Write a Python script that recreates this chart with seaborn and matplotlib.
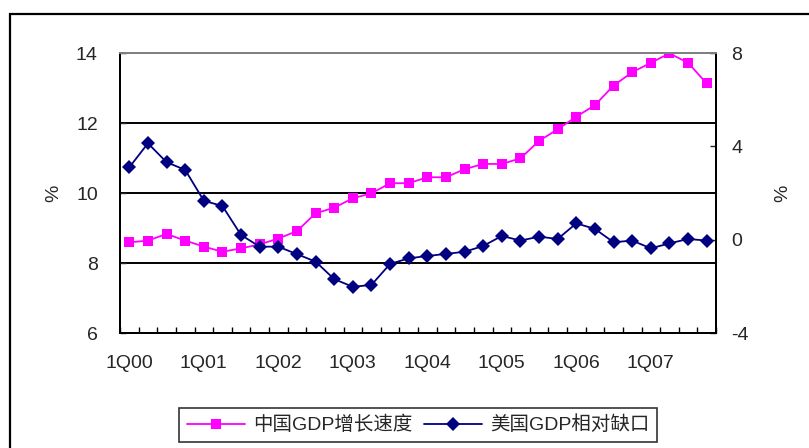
import matplotlib
matplotlib.use("Agg")
import matplotlib.pyplot as plt
from matplotlib.patches import Rectangle
from matplotlib.ticker import MultipleLocator, FixedLocator
import seaborn as sns
import pandas as pd
import numpy as np

sns.set_style("white")
plt.rcParams['font.family'] = ['Liberation Sans', 'Noto Sans CJK SC', 'DejaVu Sans']
plt.rcParams['axes.unicode_minus'] = False

quarters = [f"{q}Q{y:02d}" for y in range(0, 8) for q in range(1, 5)]
tick_labels = ["1Q00", "1Q01", "1Q02", "1Q03", "1Q04", "1Q05", "1Q06", "1Q07"]
china_gdp = [8.59, 8.64, 8.83, 8.64, 8.47, 8.32, 8.42, 8.53,
             8.70, 8.91, 9.42, 9.58, 9.85, 9.99, 10.28, 10.28,
             10.45, 10.45, 10.68, 10.83, 10.83, 10.99, 11.49, 11.82,
             12.18, 12.51, 13.07, 13.45, 13.72, 13.99, 13.72, 13.13]
us_gap = [3.10, 4.13, 3.32, 2.99, 1.67, 1.44, 0.20, -0.30,
          -0.30, -0.62, -0.94, -1.69, -2.02, -1.94, -1.04, -0.80,
          -0.70, -0.61, -0.52, -0.27, 0.16, -0.04, 0.13, 0.03,
          0.70, 0.46, -0.11, -0.04, -0.37, -0.16, 0.03, -0.04]
name_cn = "中国GDP增长速度"
name_us = "美国GDP相对缺口"

df = pd.DataFrame({"idx": np.arange(len(quarters)), "quarter": quarters,
                   "cn": china_gdp, "us": us_gap})

W, H = 809, 448
fig = plt.figure(figsize=(W / 100, H / 100), dpi=100)
ax = fig.add_axes([120 / W, 1 - 333 / H, (716 - 120) / W, (333 - 53) / H])
ax2 = ax.twinx()

sns.lineplot(data=df, x="idx", y="cn", ax=ax, color="#FF00FF", marker="s",
             markersize=7.5, markeredgewidth=0, linewidth=1.3, label=name_cn, legend=False)
sns.lineplot(data=df, x="idx", y="us", ax=ax2, color="#000080", marker="D",
             markersize=7, markeredgewidth=0, linewidth=1.3, label=name_us, legend=False)

ax.set_xlim(-0.5, len(quarters) - 0.5)
ax.set_ylim(6, 14)
ax2.set_ylim(-4, 8)
ax.yaxis.set_major_locator(MultipleLocator(2))
ax2.yaxis.set_major_locator(MultipleLocator(4))

ax.set_xticks([quarters.index(t) for t in tick_labels])
ax.set_xticklabels(tick_labels)
ax.xaxis.set_minor_locator(FixedLocator(np.arange(-0.5, len(quarters), 1.0)))
ax.tick_params(axis="x", which="major", length=0, pad=16, labelsize=14)
ax.tick_params(axis="x", which="minor", direction="in", length=4, width=1, color="black", bottom=True)
ax.tick_params(axis="y", direction="in", length=4, width=1, pad=16, labelsize=14, left=True)
ax2.tick_params(axis="y", direction="in", length=4, width=1, pad=11, labelsize=14, right=True)

ax.yaxis.grid(True, color="black", linewidth=1.4)
ax.xaxis.grid(False)
ax2.grid(False)
ax.set_xlabel("")
ax.set_ylabel("%", fontsize=14, labelpad=10)
ax2.set_ylabel("%", fontsize=14, labelpad=18)

for a in (ax, ax2):
    for s in ("left", "bottom", "right"):
        a.spines[s].set_color("black")
        a.spines[s].set_linewidth(1.4)
    a.spines["top"].set_color("#808080")
    a.spines["top"].set_linewidth(1.4)

h1, l1 = ax.get_legend_handles_labels()
h2, l2 = ax2.get_legend_handles_labels()
leg = fig.legend(h1 + h2, l1 + l2, loc="center", bbox_to_anchor=(418 / W, 1 - 425 / H),
                 ncol=2, fontsize=14, frameon=True, fancybox=False, handlelength=3,
                 columnspacing=0.6, handletextpad=0.4, borderpad=0.4)
leg.get_frame().set_edgecolor("black")
leg.get_frame().set_linewidth(1.2)

fig.patches.append(Rectangle((10 / W, -0.1), 1.2, 1 - 14 / H + 0.1, transform=fig.transFigure,
                             fill=False, edgecolor="black", linewidth=1.6, zorder=0))

fig.savefig("out.png", dpi=100)
